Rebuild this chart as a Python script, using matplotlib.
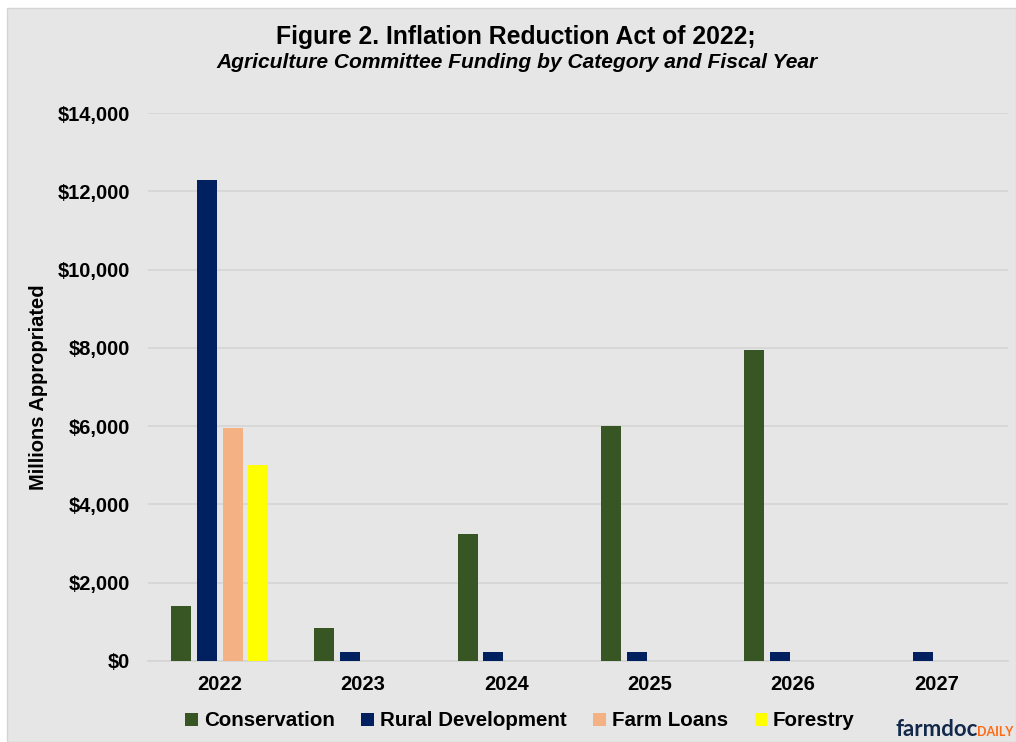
import matplotlib.pyplot as plt
import matplotlib.patches as patches
import numpy as np

plt.rcParams['font.family'] = ['Liberation Sans', 'DejaVu Sans']

years = ['2022', '2023', '2024', '2025', '2026', '2027']
conservation = [1400, 850, 3250, 6000, 7950, 0]
rural_dev = [12280, 220, 220, 220, 220, 220]
farm_loans = [5960, 0, 0, 0, 0, 0]
forestry = [5000, 0, 0, 0, 0, 0]

series = [
    ('Conservation', conservation, '#375623'),
    ('Rural Development', rural_dev, '#002060'),
    ('Farm Loans', farm_loans, '#F4B183'),
    ('Forestry', forestry, '#FFFF00'),
]

W, H = 1016, 742
fig = plt.figure(figsize=(W / 100, H / 100), dpi=100, facecolor='white')

# grey panel with a thin white margin top/left
bg = patches.Rectangle((7 / W, 0), 1 - 7 / W, 1 - 8 / H, transform=fig.transFigure,
                       facecolor='#e6e6e6', edgecolor='#d4d4d4', linewidth=1, zorder=-10)
fig.patches.append(bg)

ax = fig.add_axes([148 / W, 81 / H, (1008 - 148) / W, (661 - 113) / H])
ax.set_facecolor('#e6e6e6')

x = np.arange(len(years))
step = 0.18
width = 0.14
for i, (name, vals, col) in enumerate(series):
    ax.bar(x + (i - 1.5) * step, vals, width, color=col, label=name, zorder=3)

ax.set_xlim(-0.5, len(years) - 0.5)
ax.set_ylim(0, 14000)
ax.set_yticks(np.arange(0, 14001, 2000))
ax.set_yticklabels(['${:,.0f}'.format(v) for v in np.arange(0, 14001, 2000)],
                   fontsize=14.5, fontweight='bold')
ax.set_xticks(x)
ax.set_xticklabels(years, fontsize=14.5, fontweight='bold')
ax.tick_params(length=0, pad=10)
ax.tick_params(axis='y', pad=13)
ax.grid(axis='y', color='#d4d4d4', linewidth=1.2, zorder=0)
for s in ax.spines.values():
    s.set_visible(False)
ax.spines['bottom'].set_visible(True)
ax.spines['bottom'].set_color('#d4d4d4')
ax.spines['bottom'].set_linewidth(1.2)

ax.set_ylabel('Millions Appropriated', fontsize=14.5, fontweight='bold', labelpad=7)

fig.text(516 / W, 1 - 37 / H, 'Figure 2. Inflation Reduction Act of 2022;',
         ha='center', va='center', fontsize=17.8, fontweight='bold')
fig.text(517 / W, 1 - 62 / H, 'Agriculture Committee Funding by Category and Fiscal Year',
         ha='center', va='center', fontsize=15.1, fontweight='bold', style='italic')

fig.legend(loc='center', bbox_to_anchor=(520 / W, 1 - 721 / H), ncol=4, frameon=False,
           prop={'weight': 'bold', 'size': 14.8}, handlelength=0.6,
           handleheight=0.6, handletextpad=0.3, columnspacing=1.3)

# logo text
fig.text(896 / W, 1 - 736 / H, 'farmdoc', ha='left', va='baseline', fontsize=16,
         fontweight='bold', color='#13294B', family='Lato')
fig.text(977 / W, 1 - 736 / H, 'DAILY', ha='left', va='baseline', fontsize=9,
         fontweight='bold', color='#FF6A13', family='Lato')

fig.savefig('out.png', dpi=100, facecolor=fig.get_facecolor())
